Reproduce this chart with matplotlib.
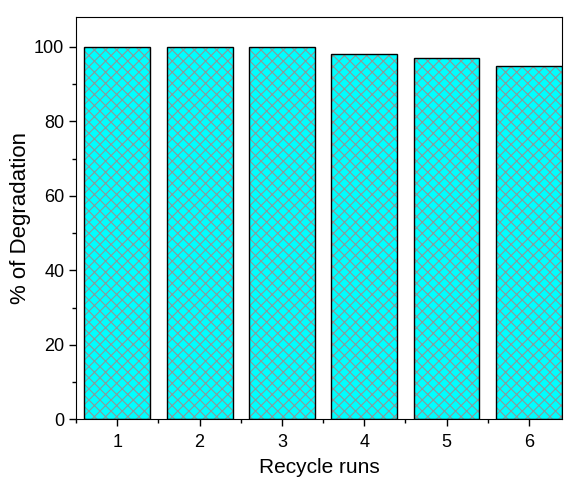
import matplotlib.pyplot as plt
from matplotlib.ticker import MultipleLocator

plt.rcParams['font.family'] = ['Liberation Sans', 'DejaVu Sans']
plt.rcParams['hatch.linewidth'] = 0.8
plt.rcParams['hatch.color'] = '#8a9a9a'

# recycle test data
runs = [1, 2, 3, 4, 5, 6]
degradation = [100, 100, 100, 98, 97, 95]

fig = plt.figure(figsize=(5.68, 4.78), dpi=100)
ax = fig.add_axes([0.134, 0.123, 0.855, 0.841])

# hatched fill first, then the black outlines on top
ax.bar(runs, degradation, width=0.8, color='#00ffff', edgecolor='#8a9a9a',
       hatch='xxx', linewidth=0)
ax.bar(runs, degradation, width=0.8, fill=False, edgecolor='black', linewidth=1.0)

ax.set_xlim(0.5, 6.4)
ax.set_ylim(0, 108)
ax.xaxis.set_major_locator(MultipleLocator(1))
ax.xaxis.set_minor_locator(MultipleLocator(0.5))
ax.yaxis.set_major_locator(MultipleLocator(20))
ax.yaxis.set_minor_locator(MultipleLocator(10))
ax.tick_params(which='both', direction='out', top=False, right=False, width=1, labelsize=13)
ax.tick_params(which='major', length=5)
ax.tick_params(which='minor', length=3)
ax.tick_params(axis='x', pad=6)

ax.set_xlabel('Recycle runs', fontsize=15, labelpad=5)
ax.set_ylabel('% of Degradation', fontsize=16, labelpad=2)

fig.savefig('out.png', dpi=100)
